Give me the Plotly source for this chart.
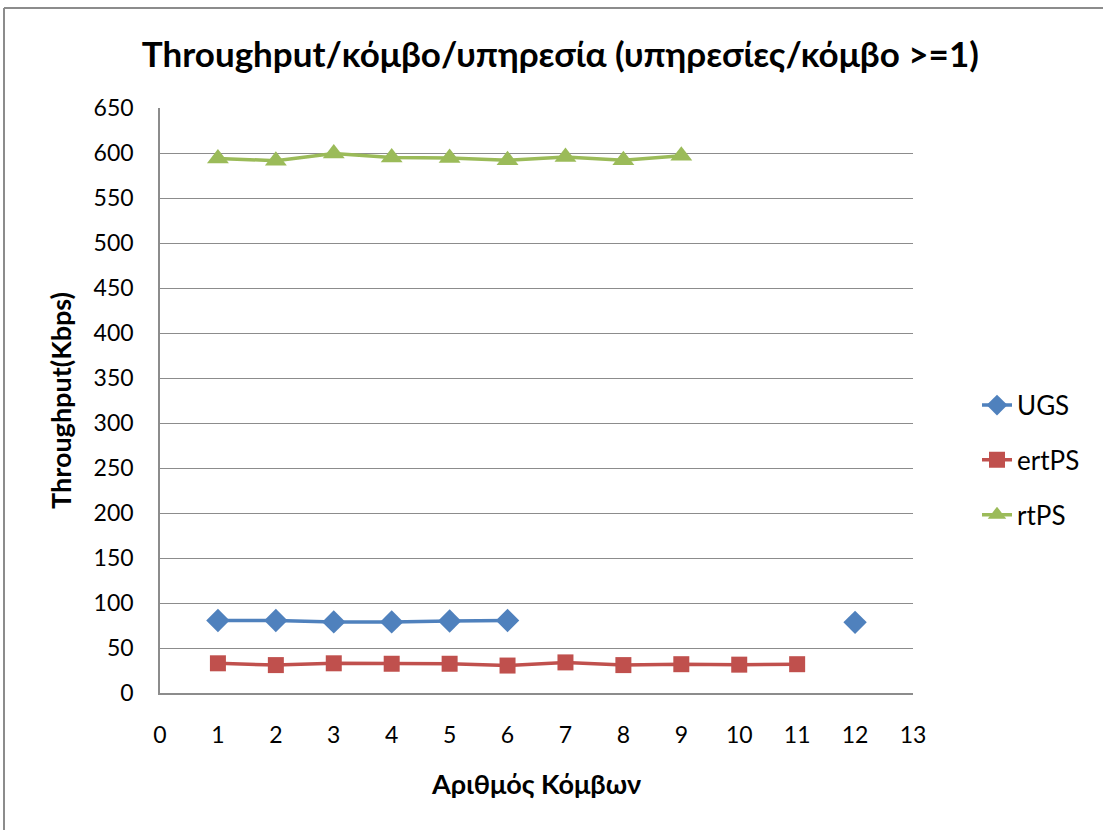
import plotly.graph_objects as go

# Throughput per node per service, by number of nodes
nodes_ugs = [1, 2, 3, 4, 5, 6, None, 12]
ugs = [80.5, 80.5, 79, 79, 80, 80.5, None, 78.5]

nodes_ertps = [1, 2, 3, 4, 5, 6, 7, 8, 9, 10, 11]
ertps = [33, 31, 33, 32.5, 32.5, 30.5, 34, 31, 32, 31.5, 32]

nodes_rtps = [1, 2, 3, 4, 5, 6, 7, 8, 9]
rtps = [594, 591.5, 599.5, 595, 594.5, 592, 595.5, 592, 597]

y_ticks = list(range(0, 651, 50))
x_ticks = list(range(0, 14))

FONT = "Lato"

fig = go.Figure()
series = [
    ("UGS", nodes_ugs, ugs, "#4F81BD", "diamond", 18),
    ("ertPS", nodes_ertps, ertps, "#C0504D", "square", 16),
    ("rtPS", nodes_rtps, rtps, "#9BBB59", "triangle-up", 19),
]
for name, xs, ys, color, sym, size in series:
    fig.add_trace(go.Scatter(
        x=xs, y=ys, name=name, mode="lines+markers",
        legendgroup=name, connectgaps=False,
        line=dict(color=color, width=3.5),
        marker=dict(symbol=sym, size=size, color=color),
    ))

fig.update_layout(
    width=1103, height=830,
    margin=dict(l=160, r=190, t=108, b=137),
    paper_bgcolor="white", plot_bgcolor="white",
    font=dict(family=FONT, size=23, color="#000"),
    title=dict(
        text="<b>Throughput/κόμβο/υπηρεσία (υπηρεσίες/κόμβο >=1)</b>",
        x=0.508, xanchor="center", y=0.934, yanchor="middle",
        font=dict(family=FONT, size=35, color="#000"),
    ),
    xaxis=dict(
        range=[0, 13], tickvals=x_ticks, showgrid=False, zeroline=False,
        showline=True, linecolor="#8c8c8c", linewidth=1.5,
        ticks="", ticklabelstandoff=21,
        title=dict(text="<b>Αριθμός Κόμβων</b>", standoff=28,
                   font=dict(family=FONT, size=27)),
    ),
    yaxis=dict(
        range=[0, 650], tickvals=y_ticks, showgrid=True, gridcolor="#8c8c8c",
        gridwidth=1, zeroline=False, showline=True, linecolor="#8c8c8c",
        linewidth=1.5, ticks="", ticklabelstandoff=20,
        title=dict(text="<b>Throughput(Kbps)</b>", standoff=14,
                   font=dict(family=FONT, size=27)),
    ),
    legend=dict(
        x=1.085, xanchor="left", y=0.398, yanchor="middle",
        font=dict(family=FONT, size=26), tracegroupgap=18,
        bgcolor="rgba(0,0,0,0)",
    ),
    showlegend=True,
)

# Chart frame
fig.add_shape(type="line", xref="paper", yref="paper",
              x0=-156 / 753, x1=1.5, y0=(830 - 8 - 137) / 585, y1=(830 - 8 - 137) / 585,
              line=dict(color="#8c8c8c", width=2))
fig.add_shape(type="line", xref="paper", yref="paper",
              x0=-156 / 753, x1=-156 / 753, y0=-0.5, y1=(830 - 8 - 137) / 585,
              line=dict(color="#8c8c8c", width=2))

fig.write_html("out.html")
